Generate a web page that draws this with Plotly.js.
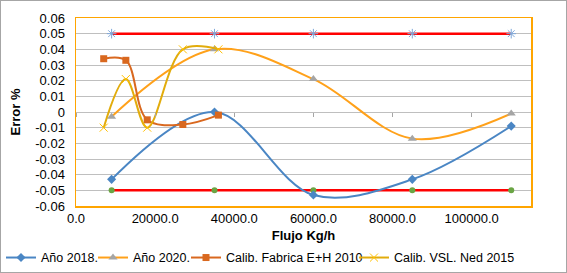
<!DOCTYPE html>
<html>
<head>
<meta charset="utf-8">
<script src="https://cdn.plot.ly/plotly-3.0.1.min.js"></script>
<style>
html,body{margin:0;padding:0;background:#fff;}
#chart{width:565px;height:271px;border:1px solid #A6A6A6;}
</style>
</head>
<body>
<div id="chart"></div>
<script>
// ---- data ----
const seriesNames = ["Año 2018.", "Año 2020.", "Calib. Fabrica E+H 2010", "Calib. VSL. Ned 2015"];
const xYears = [9000, 35000, 60000, 85000, 110000];
const y2018 = [-0.043, 0.000, -0.053, -0.043, -0.009];
const y2020 = [-0.003, 0.040, 0.021, -0.017, -0.001];
const xCalib = [7000, 12600, 18000, 27000, 36000];
const yEH = [0.034, 0.033, -0.005, -0.008, -0.002];
const yVSL = [-0.010, 0.021, -0.010, 0.040, 0.040];
const xLimits = [9000, 35000, 60000, 85000, 110000];
const yUpper = [0.05, 0.05, 0.05, 0.05, 0.05];
const yLower = [-0.05, -0.05, -0.05, -0.05, -0.05];
const yTickVals = [-0.06, -0.05, -0.04, -0.03, -0.02, -0.01, 0, 0.01, 0.02, 0.03, 0.04, 0.05, 0.06];
const yTickText = ["-0.06", "-0.05", "-0.04", "-0.03", "-0.02", "-0.01", "0", "0.01", "0.02", "0.03", "0.04", "0.05", "0.06"];
const xTickVals = [0, 20000, 40000, 60000, 80000, 100000];
const xTickText = ["0.0", "20000.0", "40000.0", "60000.0", "80000.0", "100000.0"];

const font = "Liberation Sans, Arial, sans-serif";
const W = 565;
// legend entry left positions (px) in the legend row
const legendLeft = [-2, 92, 185, 353];

const traces = [
  {x: xLimits, y: yUpper, mode: "lines+markers", showlegend: false, hoverinfo: "skip",
   line: {color: "#FF0000", width: 2.5},
   marker: {symbol: "asterisk-open", size: 8, color: "#7FA8DA", line: {color: "#7FA8DA", width: 1}}},
  {x: xLimits, y: yLower, mode: "lines+markers", showlegend: false, hoverinfo: "skip",
   line: {color: "#FF0000", width: 2.5},
   marker: {symbol: "circle", size: 6, color: "#6AA544"}},
  {x: xYears, y: y2018, name: seriesNames[0], mode: "lines+markers", legend: "legend",
   line: {color: "#4A86C4", width: 2, shape: "spline", smoothing: 1},
   marker: {symbol: "diamond", size: 7, color: "#4A86C4"}},
  {x: xYears, y: y2020, name: seriesNames[1], mode: "lines+markers", legend: "legend2",
   line: {color: "#FFA11A", width: 2, shape: "spline", smoothing: 1},
   marker: {symbol: "triangle-up", size: 8, color: "#A5A5A5"}},
  {x: xCalib, y: yEH, name: seriesNames[2], mode: "lines+markers", legend: "legend3",
   line: {color: "#D9681F", width: 2, shape: "spline", smoothing: 1},
   marker: {symbol: "square", size: 7, color: "#D9681F"}},
  {x: xCalib, y: yVSL, name: seriesNames[3], mode: "lines+markers", legend: "legend4",
   line: {color: "#E2AC0C", width: 2, shape: "spline", smoothing: 1},
   marker: {symbol: "x-thin-open", size: 8, color: "#FFC000", line: {color: "#FFC000", width: 1}}}
];

function legendAt(px) {
  return {orientation: "h", xref: "container", yref: "container", x: px / W, xanchor: "left",
          y: 0.052, yanchor: "middle", bgcolor: "rgba(0,0,0,0)",
          font: {family: font, size: 12.5, color: "#000"}, itemwidth: 30};
}

const layout = {
  width: 565, height: 271,
  margin: {l: 75, r: 35, t: 17, b: 66, autoexpand: false},
  paper_bgcolor: "#FFFFFF", plot_bgcolor: "#FFFFFF",
  font: {family: font, size: 13, color: "#000000"},
  showlegend: true,
  legend: legendAt(legendLeft[0]),
  legend2: legendAt(legendLeft[1]),
  legend3: legendAt(legendLeft[2]),
  legend4: legendAt(legendLeft[3]),
  xaxis: {
    range: [0, 115000], tickvals: xTickVals, ticktext: xTickText,
    showgrid: false, zeroline: false, ticks: "", automargin: true,
    showline: true, mirror: true, linecolor: "#FFA500", linewidth: 1.5,
    ticklabelstandoff: 0,
    title: {text: "Flujo Kg/h", font: {family: font, size: 13, color: "#000", weight: "bold"}, standoff: 12}
  },
  xaxis2: {
    overlaying: "x", matches: "x", anchor: "free", position: 0.5, side: "bottom",
    range: [0, 115000], tickvals: xTickVals, showticklabels: false,
    ticks: "outside", ticklen: 4, tickcolor: "#A6A6A6", tickwidth: 1,
    showgrid: false, zeroline: false, showline: false
  },
  yaxis: {
    range: [-0.06, 0.06], tickvals: yTickVals, ticktext: yTickText, automargin: true,
    showgrid: true, gridcolor: "#BFBFBF", gridwidth: 1, zeroline: false, ticks: "",
    showline: true, mirror: true, linecolor: "#FFA500", linewidth: 1.5,
    ticklabelstandoff: 7,
    title: {text: "Error %", font: {family: font, size: 13, color: "#000", weight: "bold"}, standoff: 11}
  }
};

// invisible helper trace to make xaxis2 render
traces.push({x: [0], y: [0], xaxis: "x2", yaxis: "y", mode: "markers", showlegend: false,
             hoverinfo: "skip", marker: {opacity: 0}});

Plotly.newPlot("chart", traces, layout, {displayModeBar: false, staticPlot: true});
</script>
</body>
</html>
